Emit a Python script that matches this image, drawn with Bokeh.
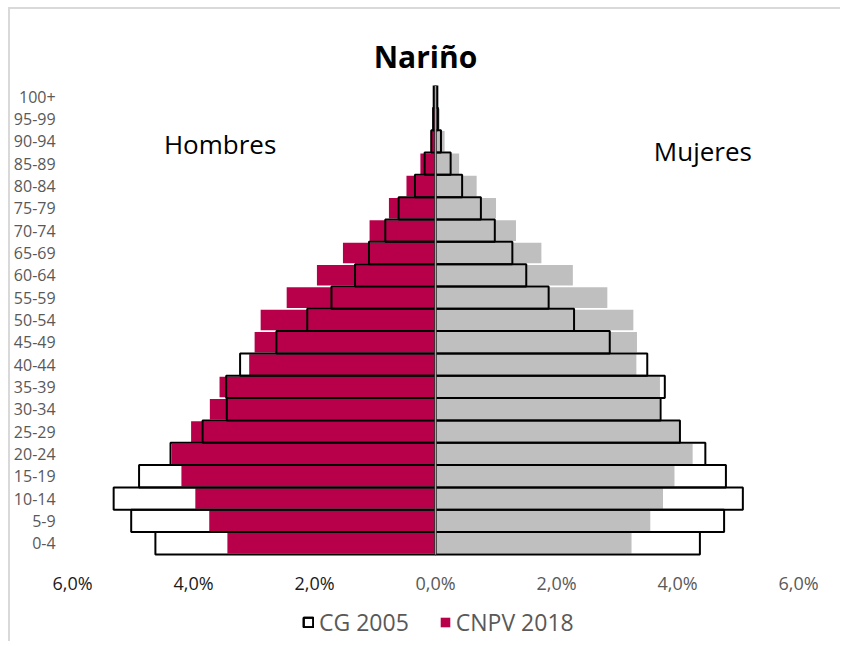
from bokeh.plotting import figure
from bokeh.models import Range1d, Label, Legend, LegendItem, ColumnDataSource
from bokeh.core.properties import value
from bokeh.embed import file_html
from bokeh.resources import INLINE

ages = ["0-4", "5-9", "10-14", "15-19", "20-24", "25-29", "30-34", "35-39", "40-44",
        "45-49", "50-54", "55-59", "60-64", "65-69", "70-74", "75-79", "80-84",
        "85-89", "90-94", "95-99", "100+"]

# percentages of total population
male_2005 = [4.63, 5.03, 5.32, 4.90, 4.38, 3.85, 3.45, 3.46, 3.23, 2.63, 2.12, 1.72,
             1.33, 1.10, 0.83, 0.61, 0.34, 0.18, 0.07, 0.04, 0.03]
female_2005 = [4.37, 4.77, 5.08, 4.80, 4.46, 4.04, 3.72, 3.79, 3.50, 2.88, 2.29, 1.87,
               1.50, 1.27, 0.98, 0.75, 0.44, 0.25, 0.09, 0.04, 0.03]
male_2018 = [3.44, 3.74, 3.97, 4.20, 4.36, 4.04, 3.73, 3.57, 3.08, 2.99, 2.89, 2.46,
             1.96, 1.53, 1.09, 0.77, 0.48, 0.25, 0.08, 0.03, 0.01]
female_2018 = [3.24, 3.55, 3.76, 3.95, 4.25, 4.03, 3.70, 3.71, 3.32, 3.33, 3.27, 2.84,
               2.27, 1.75, 1.33, 1.00, 0.68, 0.39, 0.15, 0.07, 0.02]

x_ticks = [-6, -4, -2, 0, 2, 4, 6]
x_tick_labels = ["6,0%", "4,0%", "2,0%", "0,0%", "2,0%", "4,0%", "6,0%"]

RED = "#B8004A"
GRAY = "#BFBFBF"
FONT = "Open Sans"

idx = list(range(len(ages)))
src = ColumnDataSource(dict(
    y=idx,
    m05=[-v for v in male_2005], f05=female_2005,
    m18=[-v for v in male_2018], f18=female_2018,
    zero=[0] * len(ages),
))

p = figure(frame_width=830, frame_height=556, output_backend="svg", toolbar_location=None,
           x_range=Range1d(-7.025, 6.694), y_range=Range1d(-4.4, len(ages) - 0.5),
           x_axis_location=None, y_axis_location=None,
           min_border_left=0, min_border_right=0, min_border_top=76,
           min_border_bottom=0)
p.styles = {"border-top": "2px solid #D9D9D9", "border-left": "2px solid #D9D9D9",
            "margin-top": "7px", "margin-left": "8px"}
p.outline_line_color = None
p.xgrid.visible = False
p.ygrid.visible = False

p.title.text = "Nariño"
p.title.align = "center"
p.title.text_font = FONT
p.title.text_font_size = "30px"
p.title.text_font_style = "bold"
p.title.text_color = "#000000"
p.title.standoff = 17

# CG 2005 white fill (underneath)
p.hbar(y="y", left="m05", right="zero", height=1.0, source=src,
       fill_color="white", line_color=None)
p.hbar(y="y", left="zero", right="f05", height=1.0, source=src,
       fill_color="white", line_color=None)
# CNPV 2018
r_m18 = p.hbar(y="y", left="m18", right="zero", height=0.92, source=src,
               fill_color=RED, line_color=None)
r_f18 = p.hbar(y="y", left="zero", right="f18", height=0.92, source=src,
               fill_color=GRAY, line_color=None)
# CG 2005 outlines on top
r_m05 = p.hbar(y="y", left="m05", right="zero", height=1.0, source=src,
               fill_color=None, line_color="black", line_width=2)
r_f05 = p.hbar(y="y", left="zero", right="f05", height=1.0, source=src,
               fill_color=None, line_color="black", line_width=2)

# vertical zero line spanning the bars
p.segment(x0=[0], y0=[-0.5], x1=[0], y1=[len(ages) - 0.5],
          line_color="#A6A6A6", line_width=1.5)

# x tick labels (left half dark, right half gray as in the source chart)
tick_src = ColumnDataSource(dict(
    x=x_ticks, y=[-1.8] * len(x_ticks), text=x_tick_labels,
    color=["#1A1A1A" if t < 0 else "#595959" for t in x_ticks],
))
p.text(x="x", y="y", text="text", source=tick_src, text_color="color",
       text_align="center", text_baseline="middle",
       text_font=value(FONT), text_font_size="18px")

# age-group labels
age_src = ColumnDataSource(dict(x=[-6.28] * len(ages), y=idx, text=ages))
p.text(x="x", y="y", text="text", source=age_src, text_color="#595959",
       text_align="right", text_baseline="middle",
       text_font=value(FONT), text_font_size="16px")

# side labels
p.add_layout(Label(x=-3.56, y=17.9, text="Hombres", text_align="center",
                   text_baseline="alphabetic", text_font=FONT,
                   text_font_size="26px", text_color="#000000"))
p.add_layout(Label(x=4.42, y=17.56, text="Mujeres", text_align="center",
                   text_baseline="alphabetic", text_font=FONT,
                   text_font_size="26px", text_color="#000000"))

legend = Legend(items=[LegendItem(label="CG 2005", renderers=[r_m05, r_f05]),
                       LegendItem(label="CNPV 2018", renderers=[r_m18])],
                orientation="horizontal", location=(292, 3),
                label_text_font=FONT, label_text_font_size="23px",
                label_text_color="#595959", glyph_width=12, glyph_height=12,
                label_standoff=5, spacing=30, padding=0, margin=0,
                background_fill_alpha=0, border_line_color=None)
p.add_layout(legend)

open("out.html", "w").write(file_html(p, INLINE))
